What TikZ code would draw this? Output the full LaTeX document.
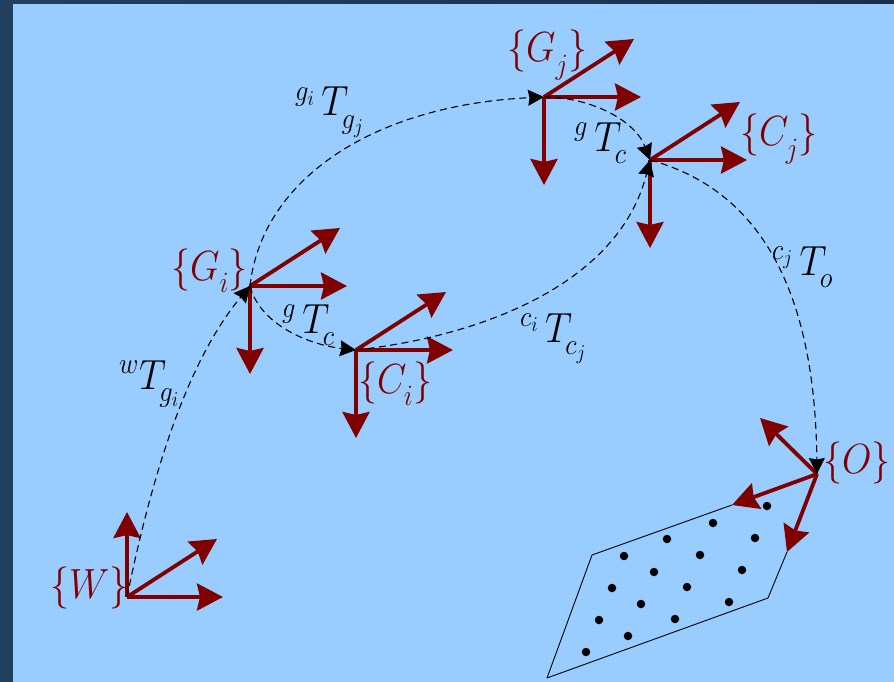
\documentclass[tikz,border=0pt]{standalone}
\usepackage{fix-cm}
\usepackage{amsmath}
\usepackage{xcolor}
\usetikzlibrary{arrows.meta}
\definecolor{skyfill}{HTML}{99CCFF}
\definecolor{slatel}{HTML}{21405F}
\definecolor{slater}{HTML}{1A2F4B}
\definecolor{framered}{HTML}{800000}
\newcommand{\dropsub}[2][0pt]{_{\kern#1\raisebox{-6pt}{$\scriptstyle #2$}}}
\tikzset{
  framearrow/.style={draw=framered,line width=3.8pt,-{Stealth[length=26pt,width=27pt,inset=3pt]}},
  pathlink/.style={draw=black,line width=1.1pt,dash pattern=on 7pt off 4.5pt,-{Stealth[length=16pt,width=16pt,inset=1.5pt]}},
  framelabel/.style={text=framered,anchor=base west,inner sep=0pt,transform shape,yscale=1.11},
  poselabel/.style={text=black,anchor=base west,inner sep=0pt,transform shape,yscale=1.11},
  ptdot/.style={circle,fill=black,inner sep=0pt,minimum size=8.5pt},
  plateedge/.style={draw=black,line width=0.9pt}
}
\begin{document}
\begin{tikzpicture}[x=1pt,y=-1pt,font=\fontsize{38}{44}\selectfont]
  \useasboundingbox (0,0) rectangle (894,682);
  \fill[left color=slatel,right color=slater] (0,0) rectangle (894,682);
  \fill[skyfill] (13,4) rectangle (894,682);

  % frame origins
  \coordinate (W) at (127,597);
  \coordinate (Gi) at (250,286);
  \coordinate (Ci) at (356,350);
  \coordinate (Gj) at (544,97);
  \coordinate (Cj) at (650,160);
  \coordinate (O) at (817,474);

  % axes of the camera and gripper frames
  \foreach \o in {Gi,Ci,Gj,Cj} {
    \coordinate (\o-x) at ([shift={(97,0)}]\o);
    \coordinate (\o-y) at ([shift={(90,-58)}]\o);
    \coordinate (\o-z) at ([shift={(0,88)}]\o);
    \draw[framearrow] (\o) -- (\o-x);
    \draw[framearrow] (\o) -- (\o-y);
    \draw[framearrow] (\o) -- (\o-z);
  }
  \coordinate (W-x) at (223,597);
  \coordinate (W-y) at (217,539);
  \coordinate (W-z) at (127,512);
  \draw[framearrow] (W) -- (W-x);
  \draw[framearrow] (W) -- (W-y);
  \draw[framearrow] (W) -- (W-z);

  % plate with its dots
  \coordinate (P1) at (547,678);
  \coordinate (P2) at (592,555);
  \coordinate (P3) at (732,505);
  \coordinate (P4) at (787,552);
  \coordinate (P5) at (768,598);
  \draw[plateedge,line join=round] (P3) -- (P2) -- (P1) -- (P5) -- (P4);
  \foreach \x/\y [count=\i] in {767/506,713/523,667/539,624/556,755/538,700/555,654/572,612/588,
    742/570,687/587,641/604,599/620,729/602,675/619,628/636,586/652}
    \node[ptdot] (d\i) at (\x,\y) {};

  \coordinate (O-x) at (760,418);
  \coordinate (O-y) at (732,505);
  \coordinate (O-z) at (787,552);
  \draw[framearrow] (O) -- (O-x);
  \draw[framearrow] (O) -- (O-y);
  \draw[framearrow] (O) -- (O-z);

  % transforms
  \draw[pathlink] (W) .. controls (147,500) and (180,370) .. (Gi);
  \draw[pathlink] (Gi) .. controls (262,178) and (375,105) .. (Gj);
  \draw[pathlink] (Gi) .. controls (260,325) and (310,345) .. (Ci);
  \draw[pathlink] (Gj) .. controls (590,97) and (635,120) .. (Cj);
  \draw[pathlink] (Ci) .. controls (490,335) and (620,280) .. (Cj);
  \draw[pathlink] (Cj) .. controls (760,190) and (815,290) .. (O);

  \node[framelabel] (lW) at (50,598) {$\{W\}$};
  \node[framelabel] (lGi) at (171,280) {$\{G\dropsub{i}\}$};
  \node[framelabel] (lCi) at (358,393) {$\{C\dropsub{i}\}$};
  \node[framelabel] (lGj) at (507,62) {$\{G\dropsub{j}\}$};
  \node[framelabel] (lCj) at (740,146) {$\{C\dropsub{j}\}$};
  \node[framelabel] (lO) at (823,473) {$\{O\}$};

  \node[poselabel] (wTg) at (119,389) {${}^{w}T\dropsub[-1.5pt]{g_i}$};
  \node[poselabel] (gTg) at (295,116) {${}^{g_i}\,T\dropsub[-1.5pt]{g_j}$};
  \node[poselabel] (gTcl) at (282,333) {${}^{g}\,T\dropsub[-1.5pt]{c}$};
  \node[poselabel] (gTcu) at (574,151) {${}^{g}\,T\dropsub[-1.5pt]{c}$};
  \node[poselabel] (cTc) at (520,342) {${}^{c_i}\,T\dropsub[-1.5pt]{c_j}$};
  \node[poselabel] (cTo) at (772,275) {${}^{c_j}\,T\dropsub[-1.5pt]{o}$};
\end{tikzpicture}
\end{document}
